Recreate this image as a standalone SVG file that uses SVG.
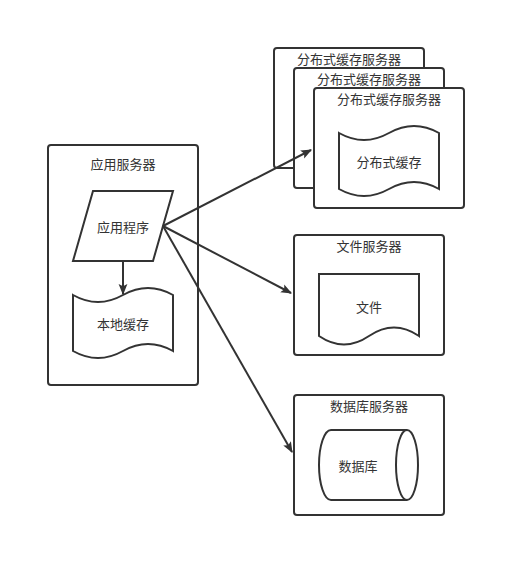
<svg xmlns="http://www.w3.org/2000/svg" width="526" height="576" viewBox="0 0 526 576">
<defs>
<style>
.b{fill:#fff;stroke:#333;stroke-width:2}
.t{font-family:"Noto Sans CJK SC","Noto Sans CJK JP",sans-serif;font-size:13px;fill:#333;text-anchor:middle;dominant-baseline:central}
.c{fill:none;stroke:#333;stroke-width:2}
</style>
<marker id="ah" viewBox="0 0 10 10" refX="9" refY="5" markerWidth="11" markerHeight="11" markerUnits="userSpaceOnUse" orient="auto"><path d="M0,1 L10,5 L0,9 L2,5 Z" fill="#333"/></marker>
</defs>
<rect width="526" height="576" fill="#fff"/>
<g id="app-server">
<rect class="b" x="48" y="145" width="150" height="240" rx="3"/>
<text class="t" x="123" y="163">应用服务器</text>
</g>
<g id="app">
<path class="b" d="M93,191 H173 L153,261 H73 Z"/>
<text class="t" x="123" y="226">应用程序</text>
</g>
<g id="local-cache">
<path class="b" d="M73,295 Q98,309 123,295 Q148,281 173,295 V351 Q148,337 123,351 Q98,365 73,351 Z"/>
<text class="t" x="123" y="323">本地缓存</text>
</g>
<g id="dist-server-1">
<rect class="b" x="274" y="48" width="150" height="120" rx="3"/>
<text class="t" x="349" y="58">分布式缓存服务器</text>
</g>
<g id="dist-server-2">
<rect class="b" x="294" y="68" width="150" height="120" rx="3"/>
<text class="t" x="369" y="78">分布式缓存服务器</text>
</g>
<g id="dist-server-3">
<rect class="b" x="314" y="88" width="150" height="120" rx="3"/>
<text class="t" x="389" y="98">分布式缓存服务器</text>
</g>
<g id="dist-cache">
<path class="b" d="M339,133 Q364,147 389,133 Q414,119 439,133 V189 Q414,175 389,189 Q364,203 339,189 Z"/>
<text class="t" x="389" y="161">分布式缓存</text>
</g>
<g id="file-server">
<rect class="b" x="294" y="235" width="150" height="120" rx="3"/>
<text class="t" x="369" y="245">文件服务器</text>
</g>
<g id="file">
<path class="b" d="M319,274 H419 V336 Q394,319 369,336 Q344,353 319,336 Z"/>
<text class="t" x="369" y="306">文件</text>
</g>
<g id="db-server">
<rect class="b" x="294" y="395" width="150" height="120" rx="3"/>
<text class="t" x="369" y="405">数据库服务器</text>
</g>
<g id="db">
<path class="b" d="M407,430 H331 A12,35 0 0 0 331,500 H407"/>
<ellipse class="b" cx="407" cy="465" rx="11" ry="35"/>
<text class="t" x="358" y="465">数据库</text>
</g>
<g id="connectors">
<path class="c" d="M123,261 V294" marker-end="url(#ah)"/>
<path class="c" d="M163,226 L311,150" marker-end="url(#ah)"/>
<path class="c" d="M163,226 L291,293" marker-end="url(#ah)"/>
<path class="c" d="M163,226 L292,452" marker-end="url(#ah)"/>
</g>
</svg>
